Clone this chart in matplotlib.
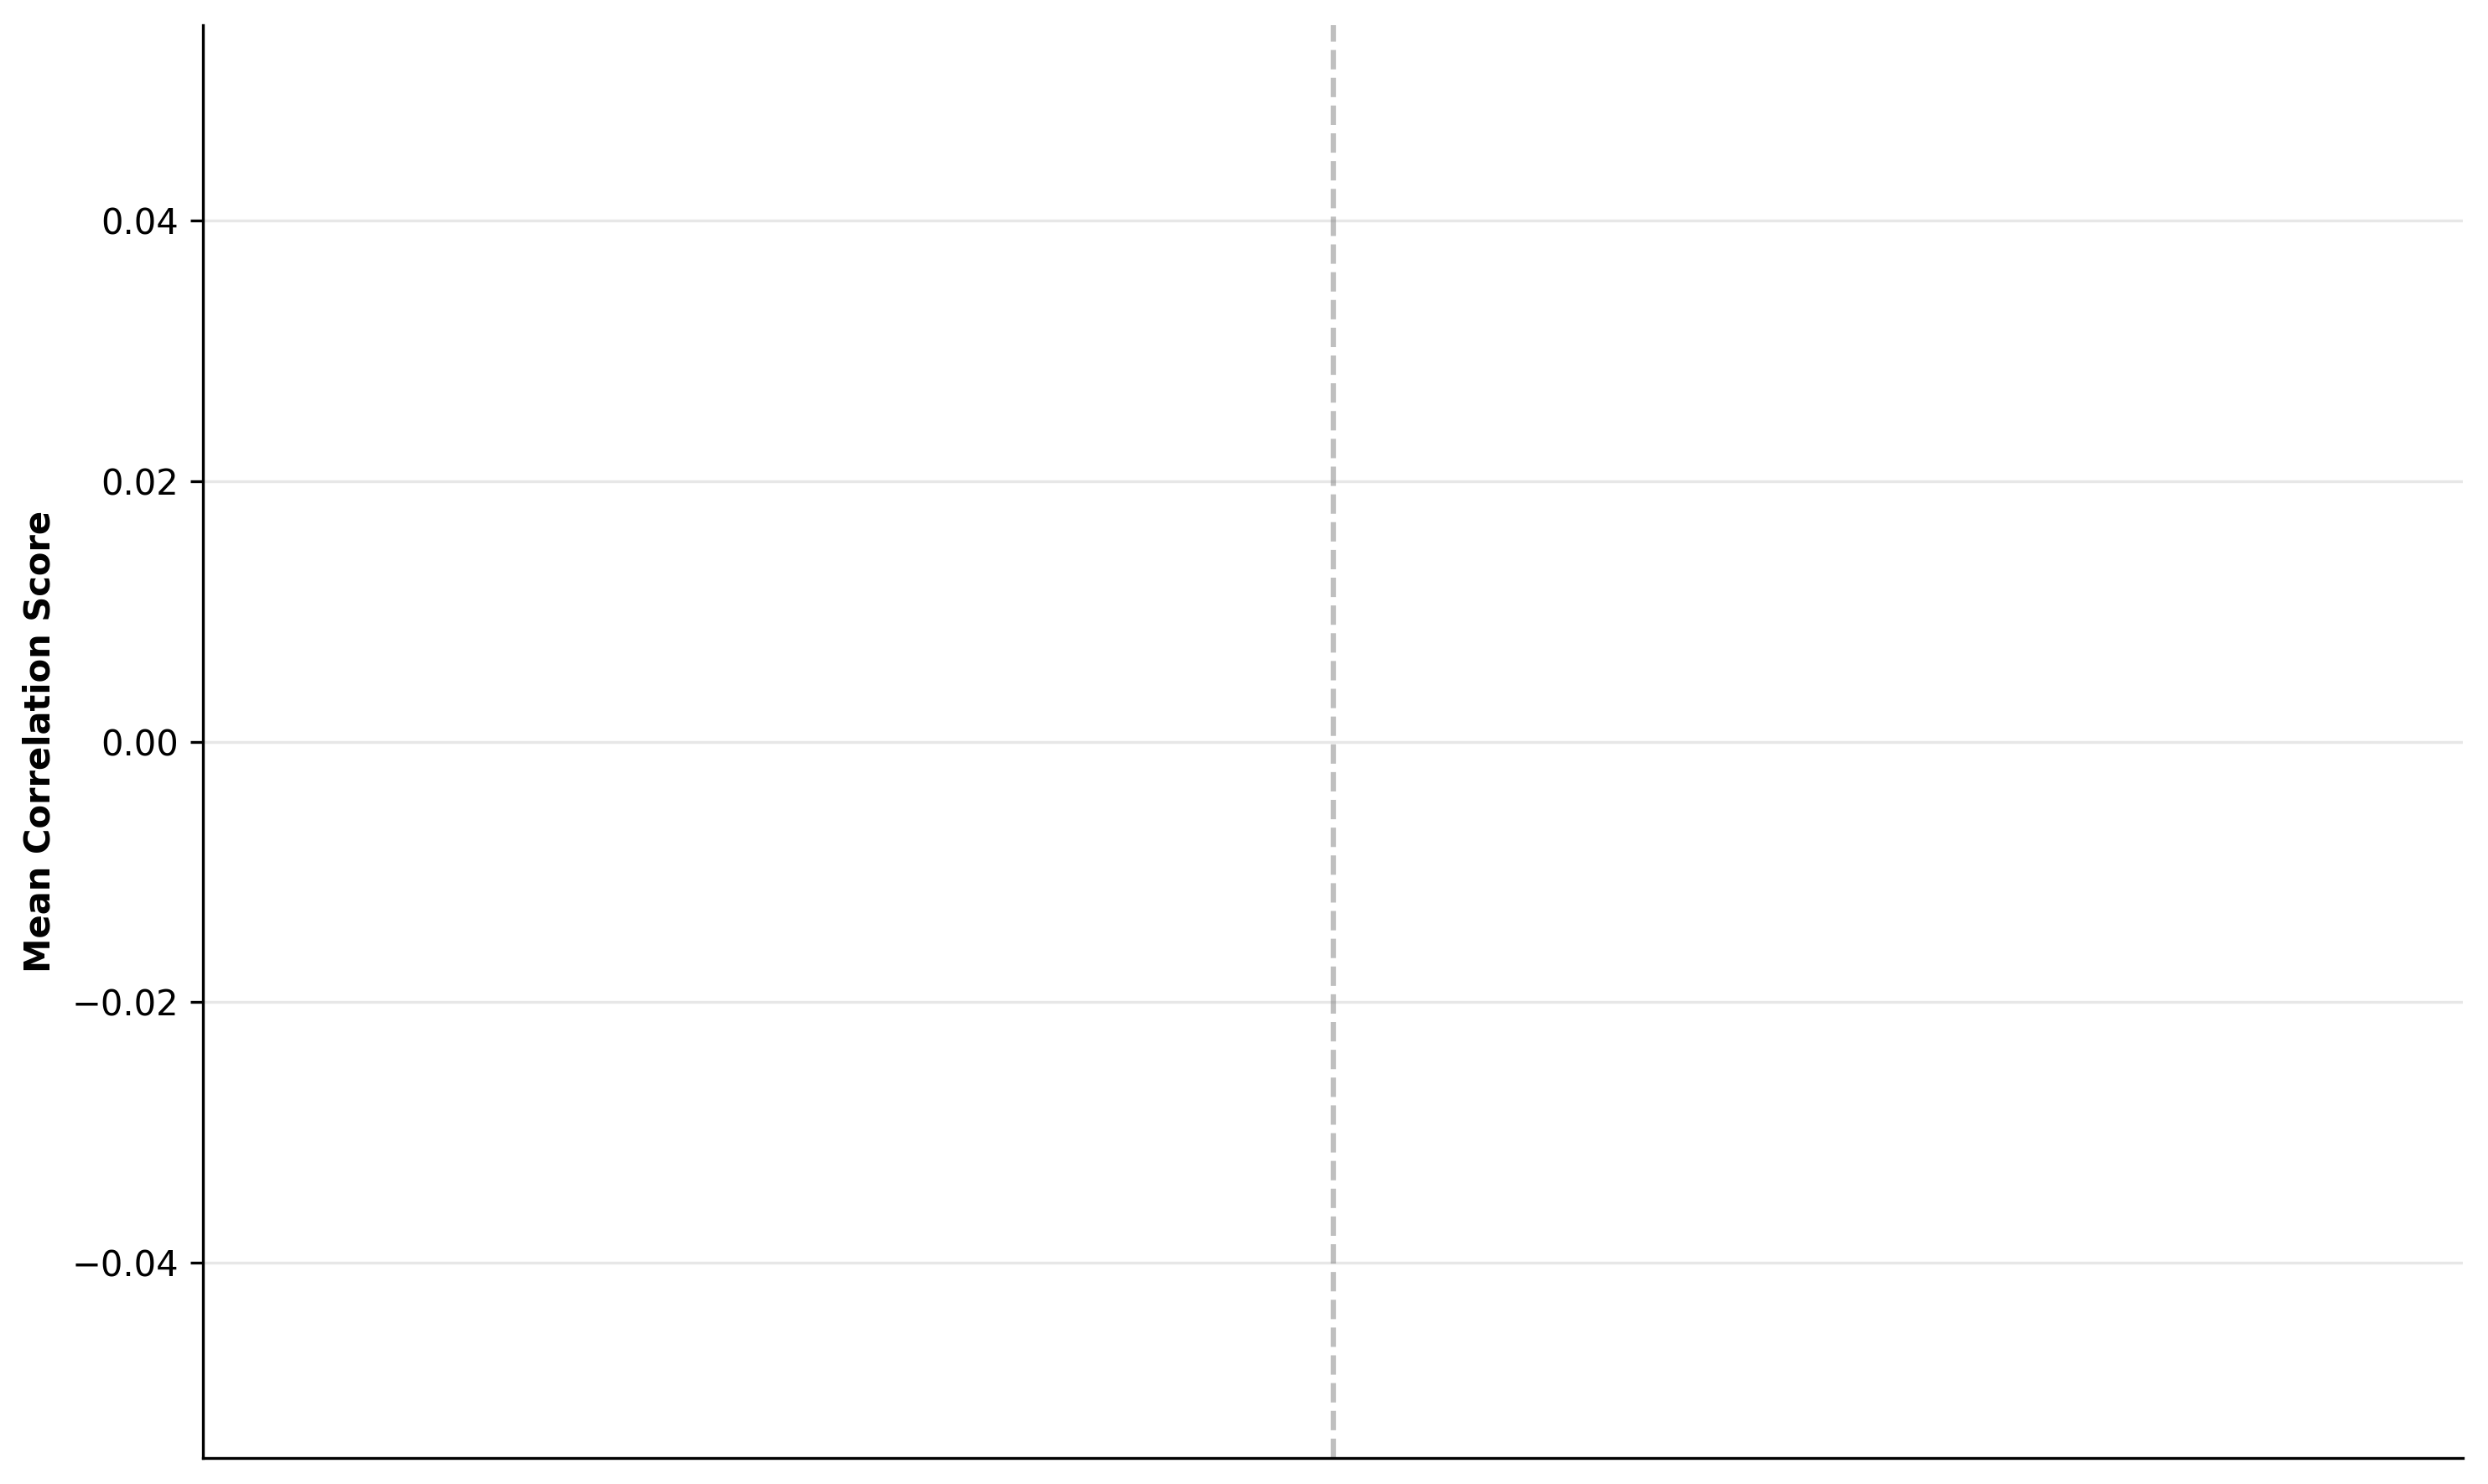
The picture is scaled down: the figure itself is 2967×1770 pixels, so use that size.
import matplotlib
matplotlib.use("Agg")
import matplotlib.pyplot as plt
import numpy as np

# two groups of models, no scores came through (all zero)
group_a = ["A1", "A2", "A3", "A4"]
group_b = ["B1", "B2", "B3", "B4"]
scores_a = [0.0, 0.0, 0.0, 0.0]
scores_b = [0.0, 0.0, 0.0, 0.0]

labels = group_a + group_b
scores = scores_a + scores_b
x = np.arange(len(labels))

fig, ax = plt.subplots(figsize=(9.89, 5.9), dpi=300)
ax.bar(x, scores, width=0.8, color="#4c72b0")

# separator between the two groups
ax.axvline(len(group_a) - 0.5, color="gray", linestyle="--", linewidth=1.5, alpha=0.5)

ax.set_ylabel("Mean Correlation Score", fontweight="bold", fontsize=10)
ax.set_xticks([])
ax.yaxis.grid(True, alpha=0.3)
ax.set_axisbelow(True)
ax.spines["top"].set_visible(False)
ax.spines["right"].set_visible(False)

fig.subplots_adjust(left=0.0816, right=0.990, top=0.9828, bottom=0.0176)
fig.savefig("out.png", dpi=300)
